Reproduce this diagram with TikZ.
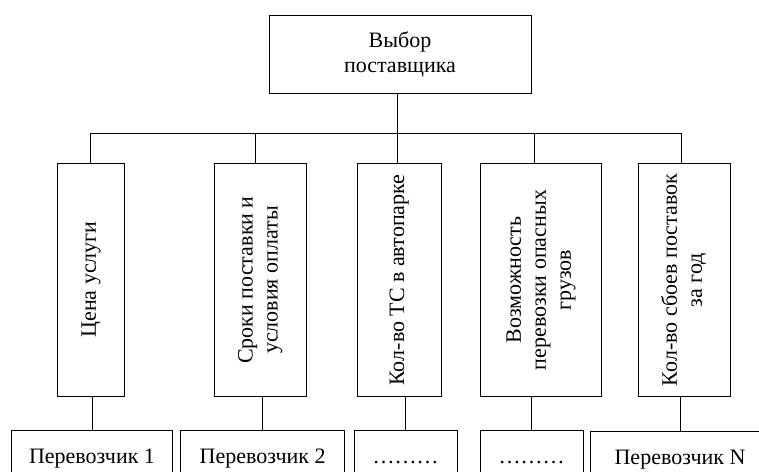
\documentclass[tikz,border=0pt]{standalone}
\usepackage{fontspec}
\setmainfont{Liberation Serif}
\usepackage{graphicx}
\newcommand{\vlabel}[1]{\rotatebox{90}{\begin{tabular}{@{}c@{}}#1\end{tabular}}}

\begin{document}
\begin{tikzpicture}[x=1pt,y=-1pt,line width=0.9pt,
                    every node/.style={font=\fontsize{22}{25}\selectfont},
                    main node/.style={draw,align=center,minimum width=262pt,minimum height=78pt},
                    crit node/.style={draw,inner sep=0pt,minimum height=233pt},
                    carrier node/.style={draw,inner sep=0pt,minimum height=56pt,text height=15pt,text depth=5pt}]
  \useasboundingbox (0,0) rectangle (759,471);
  % top
  \node[main node] (top) at (400,54) {Выбор\\поставщика};
  % criteria
  \node[crit node,minimum width=67pt]  (1) at (90.8,279.5) {\vlabel{Цена услуги}};
  \node[crit node,minimum width=92pt]  (2) at (260,280) {\vlabel{Сроки поставки и\\условия оплаты}};
  \node[crit node,minimum width=84pt]  (3) at (399,280) {\vlabel{Кол-во ТС в автопарке}};
  \node[crit node,minimum width=121pt] (4) at (540.8,280) {\vlabel{Возможность\\перевозки опасных\\грузов}};
  \node[crit node,minimum width=92pt]  (5) at (684.3,280) {\vlabel{Кол-во сбоев поставок\\за год}};
  % carriers
  \node[carrier node,minimum width=160.6pt] (p1) at (92,458) {Перевозчик 1};
  \node[carrier node,minimum width=164pt]   (p2) at (262.7,458) {Перевозчик 2};
  \node[carrier node,minimum width=103.3pt] (p3) at (405.7,458) {………};
  \node[carrier node,minimum width=102.7pt] (p4) at (531.7,458) {………};
  \node[carrier node,minimum width=180pt]   (p5) at (680,459.5) {Перевозчик N};
  % bus
  \coordinate (b1) at (90.7,133);
  \coordinate (b2) at (255.7,133);
  \coordinate (b3) at (397,133);
  \coordinate (b4) at (534.3,133);
  \coordinate (b5) at (681.7,133);
  \draw (b1) -- (b5);
  \draw (top.south -| b3) -- (b3);
  \foreach \i in {1,...,5}
    \draw (b\i) -- (b\i |- \i.north);
  \foreach \i in {1,...,5}
    \draw (p\i.north |- \i.south) -- (p\i.north);
\end{tikzpicture}
\end{document}
